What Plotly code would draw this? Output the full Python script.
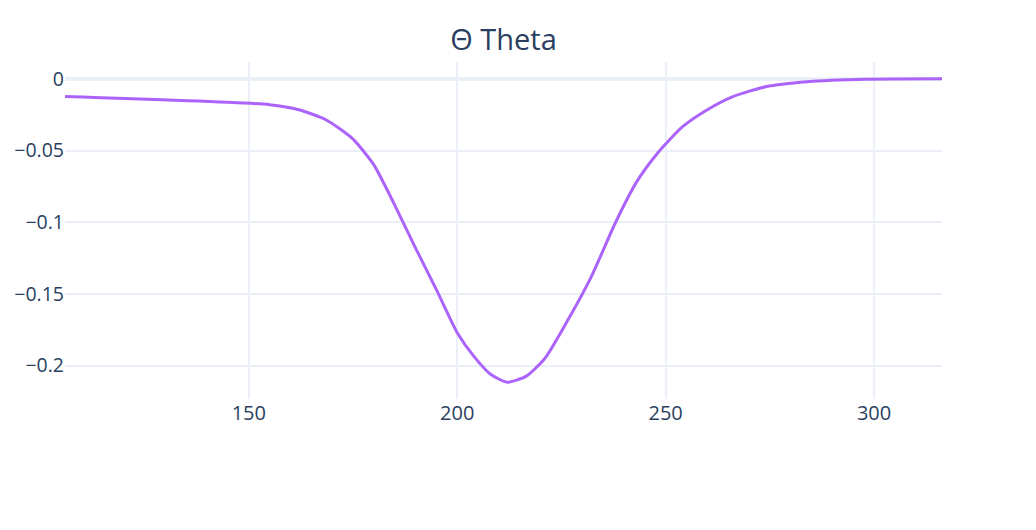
import plotly.graph_objects as go

temperature = [105.9, 155, 162, 168.5, 175, 180, 185, 190, 195, 200, 204, 208, 212,
               216.5, 221, 226, 232, 238, 243, 248, 254, 260, 266, 274, 284, 298, 316.3]
theta = [-0.0123, -0.0180, -0.0215, -0.0285, -0.0420, -0.0600, -0.0880, -0.1180,
         -0.1470, -0.1770, -0.1935, -0.2060, -0.2115, -0.2075, -0.1950, -0.1710,
         -0.1390, -0.1000, -0.0720, -0.0520, -0.0335, -0.0215, -0.0125, -0.0055,
         -0.0020, -0.0003, 0.0]

fig = go.Figure(go.Scatter(x=temperature, y=theta, mode="lines",
                           line=dict(color="#ab63fa", width=3, shape="spline",
                                     smoothing=0.6)))
fig.update_layout(
    template="plotly_white",
    width=1020, height=514,
    margin=dict(l=57, r=86, t=54, b=123),
    title=dict(text="Θ Theta", x=0.5, xref="paper", xanchor="center",
               y=0.9377, yanchor="middle", font=dict(size=29)),
    font=dict(size=20),
    showlegend=False,
)
fig.update_xaxes(tickvals=[150, 200, 250, 300], gridwidth=2, automargin=False)
fig.update_yaxes(tickvals=[0, -0.05, -0.1, -0.15, -0.2], gridwidth=2,
                 zerolinewidth=4, automargin=False, tickfont=dict(size=19.5))
fig.write_html("out.html")
